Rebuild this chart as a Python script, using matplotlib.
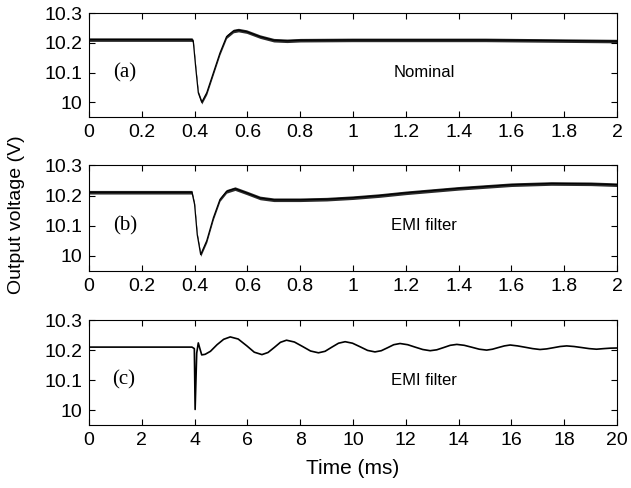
import numpy as np
import matplotlib
matplotlib.use('Agg')
import matplotlib.pyplot as plt

# panel (a): nominal, time in ms
t_a = [0, 0.39, 0.395, 0.405, 0.414, 0.427, 0.446, 0.471, 0.496, 0.521, 0.547,
       0.566, 0.597, 0.648, 0.70, 0.75, 0.8, 1.0, 1.5, 2.0]
v_a = [10.211, 10.211, 10.205, 10.11, 10.032, 10.0, 10.032, 10.099, 10.166, 10.221, 10.24,
       10.243, 10.238, 10.221, 10.209, 10.207, 10.209, 10.21, 10.21, 10.206]

# panel (b): EMI filter
t_b = [0, 0.39, 0.40, 0.41, 0.423, 0.446, 0.471, 0.496, 0.521, 0.553, 0.597,
       0.648, 0.70, 0.80, 0.90, 1.0, 1.1, 1.2, 1.4, 1.6, 1.75, 1.9, 2.0]
v_b = [10.211, 10.211, 10.17, 10.07, 10.004, 10.05, 10.126, 10.187, 10.214, 10.223, 10.209,
       10.192, 10.186, 10.186, 10.188, 10.193, 10.2, 10.209, 10.224, 10.236, 10.24, 10.239, 10.236]

# panel (c): EMI filter, longer time span
t_c = [0, 3.9, 3.99, 4.02, 4.08, 4.14, 4.2, 4.27, 4.4, 4.6, 4.85, 5.1, 5.35, 5.65,
       5.98, 6.26, 6.55, 6.78, 7.02, 7.25, 7.48, 7.78, 8.09, 8.39, 8.69, 8.94,
       9.2, 9.45, 9.70, 9.98, 10.27, 10.55, 10.83, 11.07, 11.31, 11.54, 11.78,
       12.07, 12.35, 12.64, 12.92, 13.17, 13.43, 13.68, 13.93, 14.21, 14.5, 14.78,
       15.06, 15.28, 15.5, 15.73, 15.95, 16.23, 16.52, 16.8, 17.08, 17.33, 17.59,
       17.84, 18.09, 18.37, 18.66, 18.94, 19.22, 19.5, 19.75, 20.0]
v_c = [10.21, 10.21, 10.205, 10.002, 10.19, 10.224, 10.205, 10.184, 10.186, 10.196, 10.218, 10.236, 10.244, 10.237,
       10.214, 10.193, 10.185, 10.192, 10.209, 10.226, 10.233, 10.227, 10.212, 10.197, 10.191, 10.196,
       10.21, 10.223, 10.228, 10.223, 10.211, 10.199, 10.194, 10.198, 10.208, 10.218, 10.222,
       10.218, 10.21, 10.202, 10.198, 10.201, 10.2085, 10.216, 10.219, 10.216, 10.2095, 10.203,
       10.2, 10.203, 10.2085, 10.214, 10.217, 10.214, 10.2095, 10.205, 10.202, 10.204, 10.208,
       10.212, 10.214, 10.212, 10.2085, 10.205, 10.203, 10.205, 10.2065, 10.207]

ripple = 0.006  # switching ripple half-amplitude seen in (a) and (b)

yticks = [10, 10.1, 10.2, 10.3]
ytick_labels = ['10', '10.1', '10.2', '10.3']
xticks_ab = [0, 0.2, 0.4, 0.6, 0.8, 1, 1.2, 1.4, 1.6, 1.8, 2]
xticks_c = [0, 2, 4, 6, 8, 10, 12, 14, 16, 18, 20]

plt.rcParams['font.family'] = ['Liberation Sans', 'DejaVu Sans']

fig = plt.figure(figsize=(6.31, 4.88), dpi=100)
left, width = 0.141, 0.837
ax_a = fig.add_axes([left, 0.760, width, 0.213])
ax_b = fig.add_axes([left, 0.445, width, 0.216])
ax_c = fig.add_axes([left, 0.129, width, 0.215])

panels = [
    (ax_a, t_a, v_a, xticks_ab, 2, True, '(a)', 'Nominal'),
    (ax_b, t_b, v_b, xticks_ab, 2, True, '(b)', 'EMI filter'),
    (ax_c, t_c, v_c, xticks_c, 20, False, '(c)', 'EMI filter'),
]

for ax, t, v, xt, xmax, has_ripple, tag, note in panels:
    t = np.array(t)
    v = np.array(v)
    if has_ripple:
        ax.fill_between(t, v - ripple, v + ripple, color='#2a2a2a', lw=0)
        ax.plot(t, v, color='black', lw=0.9)
    else:
        ax.plot(t, v, color='black', lw=1.2)
    ax.set_xlim(0, xmax)
    ax.set_ylim(9.95, 10.3)
    ax.set_xticks(xt)
    ax.set_xticklabels(['%g' % x for x in xt])
    ax.set_yticks(yticks)
    ax.set_yticklabels(ytick_labels)
    ax.tick_params(direction='in', length=4, width=0.8, top=True, right=True,
                   labelsize=14, pad=5)
    for s in ax.spines.values():
        s.set_linewidth(0.8)
    ax.text(0.045 * xmax if tag != '(c)' else 0.043 * xmax, 10.1, tag,
            fontsize=15, family='Liberation Serif', va='center', ha='left')
    ax.text(0.635 * xmax, 10.1, note, fontsize=12, va='center', ha='center')

fig.text(0.026, 0.561, 'Output voltage (V)', rotation=90, fontsize=14,
         va='center', ha='center')
ax_c.set_xlabel('Time (ms)', fontsize=15, labelpad=7)

plt.savefig('out.png', dpi=100)
plt.close()
